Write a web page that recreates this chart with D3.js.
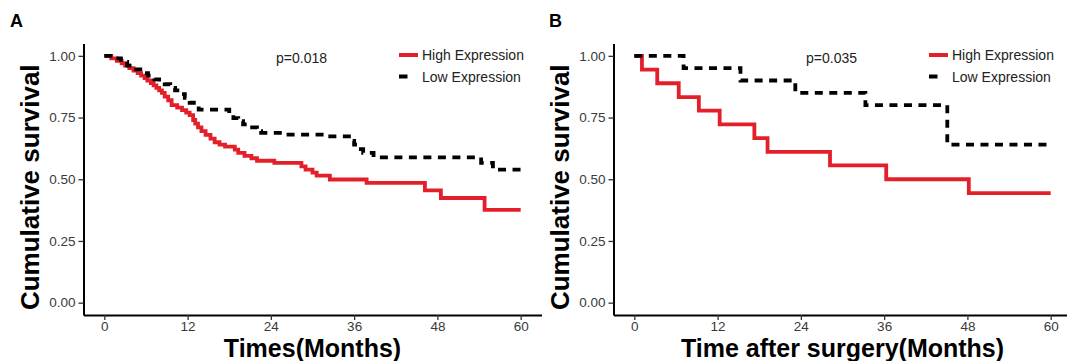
<!DOCTYPE html>
<html>
<head>
<meta charset="utf-8">
<script src="https://cdn.jsdelivr.net/npm/d3@7"></script>
<style>
  body { margin: 0; background: #fff; }
  svg { display: block; font-family: 'Liberation Sans', Arial, sans-serif; }
</style>
</head>
<body>
<svg id="chart" width="1067" height="361"></svg>
<script>
// tick labels
const xTicks = [0, 12, 24, 36, 48, 60]
const yTicks = [0, 0.25, 0.5, 0.75, 1]
const groupNames = ['High Expression', 'Low Expression']

// panel A, high expression (step times in months / survival after the step)
const aHighTimes = [0, 1.0, 1.8, 2.5, 3.0, 3.6, 4.2, 4.8, 5.3, 5.8, 6.2, 6.7, 7.1, 7.5, 7.9, 8.3, 8.7, 9.2, 9.7,
  10.5, 11.2, 11.8, 12.3, 12.8, 13.1, 13.5, 14.0, 14.6, 15.3, 15.9, 16.6, 17.4, 18.8, 19.3, 20.2, 21.2, 22.0,
  24.5, 28.4, 29.0, 30.0, 30.6, 32.5, 37.8, 46.2, 48.5, 54.8, 60]
const aHighSurv = [1, 0.99, 0.98, 0.97, 0.96, 0.95, 0.94, 0.93, 0.92, 0.91, 0.9, 0.89, 0.88, 0.87, 0.86, 0.85, 0.835, 0.82, 0.8,
  0.79, 0.78, 0.77, 0.76, 0.74, 0.725, 0.71, 0.695, 0.68, 0.665, 0.65, 0.64, 0.632, 0.62, 0.607, 0.595, 0.585, 0.575,
  0.566, 0.552, 0.539, 0.527, 0.515, 0.499, 0.485, 0.455, 0.424, 0.376, 0.376]

// panel A, low expression
const aLowTimes = [0, 1.5, 2.4, 3.3, 4.3, 5.5, 6.3, 7.2, 7.9, 8.7, 9.5, 10.2, 10.8, 11.6, 12.3, 12.9, 13.6,
  18.0, 18.6, 19.3, 20.0, 21.0, 22.0, 22.6, 26.0, 32.0, 35.6, 36.0, 36.7, 37.3, 38.8, 54.3, 56.0, 60]
const aLowSurv = [1, 0.99, 0.975, 0.96, 0.945, 0.93, 0.92, 0.905, 0.895, 0.885, 0.87, 0.86, 0.845, 0.83, 0.81, 0.795, 0.782,
  0.765, 0.748, 0.735, 0.722, 0.71, 0.695, 0.688, 0.681, 0.674, 0.655, 0.64, 0.622, 0.607, 0.589, 0.566, 0.539, 0.539]

// panel B, high expression
const bHighTimes = [0, 1.1, 3.3, 6.4, 9.3, 12.3, 17.3, 19.2, 28.2, 36.3, 48.2, 60]
const bHighSurv = [1, 0.944, 0.889, 0.833, 0.778, 0.722, 0.667, 0.611, 0.556, 0.5, 0.444, 0.444]

// panel B, low expression
const bLowTimes = [0, 7.1, 15.3, 23.2, 33.3, 45.1, 60]
const bLowSurv = [1, 0.95, 0.9, 0.85, 0.8, 0.64, 0.64]

const colors = ['#e3202a', '#000000']

const panels = [
  {letter: 'A', letterX: 10, axisX: 83.5, xTitle: 'Times(Months)', p: 'p=0.018',
    series: [[aHighTimes, aHighSurv], [aLowTimes, aLowSurv]]},
  {letter: 'B', letterX: 549, axisX: 613.5, xTitle: 'Time after surgery(Months)', p: 'p=0.035',
    series: [[bHighTimes, bHighSurv], [bLowTimes, bLowSurv]]}
]

const svg = d3.select('#chart')
const y = d3.scaleLinear().domain([-0.05, 1.05]).range([315, 43.5])

panels.forEach(panel => {
  const ox = panel.axisX
  const x = d3.scaleLinear().domain([-3, 63]).range([ox, ox + 458])
  const g = svg.append('g')

  g.append('text')
    .attr('x', panel.letterX)
    .attr('y', 27)
    .attr('font-size', 18)
    .attr('font-weight', 'bold')
    .text(panel.letter)

  // axes
  const xAxis = g.append('g')
    .attr('transform', `translate(0,${y.range()[0]})`)
    .call(d3.axisBottom(x).tickValues(xTicks).tickSize(5).tickSizeOuter(0).tickPadding(1.5))
  const yAxis = g.append('g')
    .attr('transform', `translate(${ox},0)`)
    .call(d3.axisLeft(y).tickValues(yTicks).tickFormat(d3.format('.2f')).tickSize(5).tickSizeOuter(0).tickPadding(3))
  ;[xAxis, yAxis].forEach(ax => {
    ax.select('.domain').attr('stroke', '#000').attr('stroke-width', 2)
    ax.selectAll('.tick line').attr('stroke', '#333').attr('stroke-width', 1.3)
    ax.selectAll('.tick text').attr('fill', '#3a3a3a').attr('font-size', 13.5)
      .attr('font-family', "'Liberation Sans', Arial, sans-serif")
  })

  // survival curves, low group drawn on top
  const line = d3.line()
    .x(d => x(d[0]))
    .y(d => y(d[1]))
    .curve(d3.curveStepAfter)
  panel.series.forEach((s, i) => {
    const pts = s[0].map((t, k) => [t, s[1][k]])
    g.append('path')
      .datum(pts)
      .attr('d', line)
      .attr('fill', 'none')
      .attr('stroke', colors[i])
      .attr('stroke-width', 3.8)
      .attr('stroke-dasharray', i === 1 ? '8,6.5' : null)
  })

  g.append('text')
    .attr('x', ox + 218)
    .attr('y', 63)
    .attr('text-anchor', 'middle')
    .attr('font-size', 14)
    .attr('fill', '#222')
    .text(panel.p)

  // legend
  groupNames.forEach((name, i) => {
    const ly = 55 + i * 21.5
    g.append('line')
      .attr('x1', ox + 315.5)
      .attr('x2', i === 1 ? ox + 324 : ox + 334.5)
      .attr('y1', ly)
      .attr('y2', ly)
      .attr('stroke', colors[i])
      .attr('stroke-width', 4)
    g.append('text')
      .attr('x', ox + 338.5)
      .attr('y', ly + 5)
      .attr('font-size', 14)
      .attr('fill', '#222')
      .text(name)
  })

  // titles
  g.append('text')
    .attr('x', x(30))
    .attr('y', 357)
    .attr('text-anchor', 'middle')
    .attr('font-size', 25)
    .attr('font-weight', 'bold')
    .text(panel.xTitle)
  g.append('text')
    .attr('transform', `translate(${ox - 45},${y(0.5) + 8}) rotate(-90)`)
    .attr('text-anchor', 'middle')
    .attr('font-size', 26)
    .attr('font-weight', 'bold')
    .text('Cumulative survival')
})
</script>
</body>
</html>
